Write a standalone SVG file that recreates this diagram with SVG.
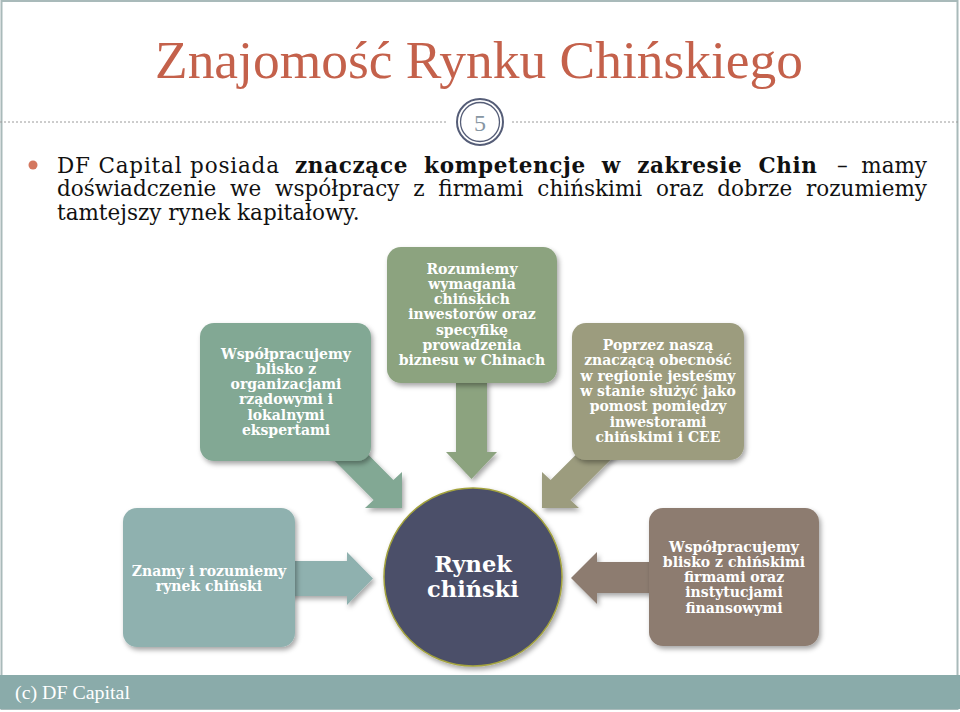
<svg xmlns="http://www.w3.org/2000/svg" width="960" height="712" viewBox="0 0 960 712">
<defs>
<style>
.title{font-family:"Liberation Serif","Times New Roman",serif;font-size:52px;fill:#C4614B}
.body{font-family:"DejaVu Serif",Georgia,serif;font-size:21.5px;fill:#111}
.bb{font-weight:bold}
.lbl{font-family:"DejaVu Serif",Georgia,serif;font-size:14px;font-weight:bold;fill:#fff;text-anchor:middle}
.big{font-family:"DejaVu Serif",Georgia,serif;font-size:22.5px;font-weight:bold;fill:#fff;text-anchor:middle}
.foot{font-family:"Liberation Serif","Times New Roman",serif;font-size:19px;fill:#fff}
</style>
<filter id="sh" x="-20%" y="-20%" width="140%" height="140%">
<feDropShadow dx="2" dy="3" stdDeviation="2.5" flood-color="#000" flood-opacity="0.35"/>
</filter>
</defs>
<rect x="0" y="0" width="960" height="712" fill="#fff"/>
<rect x="1.5" y="1" width="956" height="708" fill="none" stroke="#A9BABA" stroke-width="2"/>
<text class="title" x="155" y="78" textLength="648" lengthAdjust="spacingAndGlyphs">Znajomość Rynku Chińskiego</text>
<line x1="0" y1="122" x2="448" y2="122" stroke="#9A9A9A" stroke-width="1" stroke-dasharray="2,2"/>
<line x1="512" y1="122" x2="960" y2="122" stroke="#9A9A9A" stroke-width="1" stroke-dasharray="2,2"/>
<circle cx="480" cy="122" r="23" fill="#fff" stroke="#555D77" stroke-width="2"/>
<circle cx="480" cy="122" r="19.5" fill="#fff" stroke="#555D77" stroke-width="1.3"/>
<text x="480" y="131" text-anchor="middle" font-family="Liberation Serif, serif" font-size="24" fill="#8796A3">5</text>
<circle cx="33" cy="165" r="4.5" fill="#D4775F"/>
<text class="body" x="57" y="173" textLength="222" lengthAdjust="spacing">DF Capital posiada</text>
<text class="body bb" x="295" y="173" word-spacing="8" textLength="522" lengthAdjust="spacing">znaczące kompetencje w zakresie Chin</text>
<text class="body" x="837" y="173">–</text>
<text class="body" x="927" y="173" text-anchor="end">mamy</text>
<text class="body" x="57" y="196" word-spacing="7" textLength="870" lengthAdjust="spacing">doświadczenie we współpracy z firmami chińskimi oraz dobrze rozumiemy</text>
<text class="body" x="57" y="220">tamtejszy rynek kapitałowy.</text>
<g id="connectors">
<polygon points="337,423 393.4,480.1 402,472 402,508 365,508 373.6,499.9 317,443" fill="#82A894" filter="url(#sh)"/>
<polygon points="456,380 487,380 487,452 497,452 471.5,479 446,452 456,452" fill="#8CA37F" filter="url(#sh)"/>
<polygon points="607.2,423.5 550.6,480.1 542,472 542,508 579,508 570.4,499.9 627,443.3" fill="#9C9C7E" filter="url(#sh)"/>
<polygon points="290,561 347,561 347,552 373,578.5 347,605 347,596 290,596" fill="#8FB1AF" filter="url(#sh)"/>
<polygon points="654,562 597,562 597,552 571,578 597,604 597,593 654,593" fill="#8D7C70" filter="url(#sh)"/>
</g>
<g id="node-left">
<rect x="200" y="323" width="171" height="138" rx="14" fill="#82A894" filter="url(#sh)"/>
<text class="lbl"><tspan x="286" y="358.5">Współpracujemy</tspan><tspan x="286" y="373.8">blisko z</tspan><tspan x="286" y="389.1">organizacjami</tspan><tspan x="286" y="404.4">rządowymi i</tspan><tspan x="286" y="419.7">lokalnymi</tspan><tspan x="286" y="435">ekspertami</tspan></text>
</g>
<g id="node-middle">
<rect x="387" y="247" width="170" height="136" rx="14" fill="#8CA37F" filter="url(#sh)"/>
<text class="lbl"><tspan x="472" y="273.5">Rozumiemy</tspan><tspan x="472" y="288.8">wymagania</tspan><tspan x="472" y="304.1">chińskich</tspan><tspan x="472" y="319.4">inwestorów oraz</tspan><tspan x="472" y="334.7">specyfikę</tspan><tspan x="472" y="350">prowadzenia</tspan><tspan x="472" y="365.3">biznesu w Chinach</tspan></text>
</g>
<g id="node-right">
<rect x="572" y="323" width="172" height="137" rx="14" fill="#9C9C7E" filter="url(#sh)"/>
<text class="lbl"><tspan x="658" y="350">Poprzez naszą</tspan><tspan x="658" y="365.3">znaczącą obecność</tspan><tspan x="658" y="380.6">w regionie jesteśmy</tspan><tspan x="658" y="395.9">w stanie służyć jako</tspan><tspan x="658" y="411.2">pomost pomiędzy</tspan><tspan x="658" y="426.5">inwestorami</tspan><tspan x="658" y="441.8">chińskimi i CEE</tspan></text>
</g>
<g id="node-bottom-left">
<rect x="123" y="508" width="172" height="139" rx="14" fill="#8FB1AF" filter="url(#sh)"/>
<text class="lbl"><tspan x="209" y="575.5">Znamy i rozumiemy</tspan><tspan x="209" y="590.8">rynek chiński</tspan></text>
</g>
<g id="node-bottom-right">
<rect x="649" y="508" width="170" height="138" rx="14" fill="#8D7C70" filter="url(#sh)"/>
<text class="lbl"><tspan x="734" y="551.5">Współpracujemy</tspan><tspan x="734" y="566.8">blisko z chińskimi</tspan><tspan x="734" y="582.1">firmami oraz</tspan><tspan x="734" y="597.4">instytucjami</tspan><tspan x="734" y="612.7">finansowymi</tspan></text>
</g>
<g id="node-center">
<circle cx="473" cy="577" r="89" fill="#4B5069" stroke="#A3A23E" stroke-width="1.5" filter="url(#sh)"/>
<text class="big"><tspan x="473" y="572">Rynek</tspan><tspan x="473" y="597">chiński</tspan></text>
</g>
<rect x="0" y="675" width="960" height="34" fill="#8AABAA"/>
<text class="foot" x="15" y="699" textLength="115" lengthAdjust="spacingAndGlyphs">(c) DF Capital</text>
</svg>
